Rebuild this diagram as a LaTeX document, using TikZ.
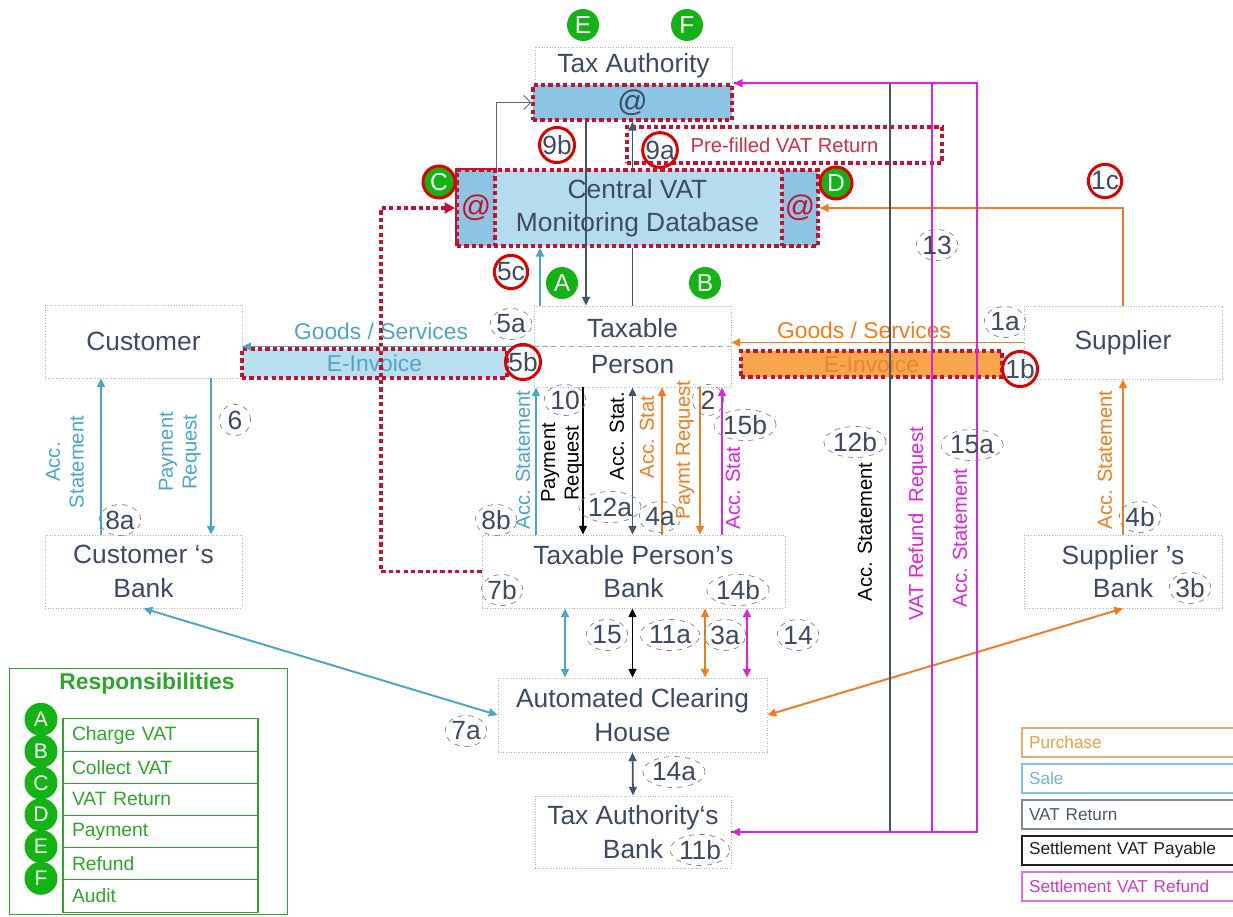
\documentclass[tikz,border=0pt]{standalone}
\usepackage{fontspec}
\setmainfont{Liberation Sans}
\usetikzlibrary{arrows.meta,shapes.geometric}
\definecolor{saleblue}{HTML}{4BA5C8}
\definecolor{purorange}{HTML}{F07C1E}
\definecolor{vatnavy}{HTML}{44546A}
\definecolor{refmag}{HTML}{E020E0}
\definecolor{dotred}{HTML}{C8102E}
\definecolor{boxtext}{HTML}{3C4A64}
\definecolor{cvfill}{HTML}{B4DCEF}
\definecolor{cellfill}{HTML}{8CC5E3}
\definecolor{einvfill}{HTML}{B8DFF0}
\definecolor{orfill}{HTML}{F8A54C}
\definecolor{ortext}{HTML}{E8862E}
\definecolor{ringred}{HTML}{E00000}
\definecolor{gcol}{HTML}{12B312}
\definecolor{respgreen}{HTML}{2EA52E}
\definecolor{prered}{HTML}{D03040}
\definecolor{legpur}{HTML}{E8B070}
\definecolor{legpurt}{HTML}{E8A040}
\definecolor{legsale}{HTML}{78C8E0}
\definecolor{legsalet}{HTML}{78B4CC}
\definecolor{legvat}{HTML}{808890}
\definecolor{legvatt}{HTML}{4A5870}
\definecolor{legpay}{HTML}{202020}
\definecolor{legref}{HTML}{E070E0}
\definecolor{legreft}{HTML}{C83CC8}

\begin{document}
\begin{tikzpicture}[x=0.02cm,y=-0.02cm,line width=.6pt,
  >={Triangle[length=5pt,width=4.5pt]},
  box/.style={draw=gray!60,densely dotted,line width=.5pt,text=boxtext,align=center,inner sep=0pt,
    font=\fontsize{15}{19}\selectfont},
  dotbox/.style={draw=dotred,line width=2pt,dash pattern=on 2.4pt off 1.8pt,inner sep=0pt,align=center},
  dotln/.style={draw=dotred,line width=2pt,dash pattern=on 2.4pt off 1.8pt},
  saleln/.style={draw=saleblue,line width=1.1pt},
  purln/.style={draw=purorange,line width=1.1pt},
  vatln/.style={draw=vatnavy,line width=1pt},
  payln/.style={draw=black,line width=1pt},
  refln/.style={draw=refmag,line width=1.1pt},
  rot/.style={rotate=90,align=center,inner sep=0pt,font=\fontsize{11.5}{13.5}\selectfont},
  numc/.style={ellipse,draw=gray,dashed,line width=.4pt,inner sep=0pt,minimum width=.62cm,minimum height=.62cm,
    text=boxtext,font=\fontsize{15}{15}\selectfont},
  redc/.style={circle,draw=ringred,line width=1.7pt,inner sep=0pt,minimum size=.66cm,
    text=boxtext,font=\fontsize{15}{15}\selectfont},
  gcirc/.style={circle,fill=gcol,text=white,inner sep=0pt,minimum size=.64cm,font=\fontsize{14}{14}\selectfont},
  resprow/.style={draw=respgreen,line width=.6pt,minimum height=.644cm,text width=3.54cm,inner xsep=.18cm,
    align=left,text=respgreen,font=\fontsize{11}{11}\selectfont},
  legbox/.style={line width=.8pt,minimum height=.58cm,text width=4cm,inner xsep=.14cm,align=left,
    font=\fontsize{9.8}{9.8}\selectfont}]
\useasboundingbox (0,0) rectangle (1233,916);

\node[box,minimum width=3.94cm,minimum height=.76cm] (ta) at (633.5,66) {Tax Authority};
\node[dotbox,fill=cellfill,minimum width=3.98cm,minimum height=.7cm,text=boxtext,font=\fontsize{17}{17}\selectfont] (taat) at (632.5,102.5) {@};
\node[dotbox,minimum width=6.3cm,minimum height=.72cm,text=prered,font=\fontsize{11.5}{11.5}\selectfont] (pre) at (784.5,145) {Pre-filled VAT Return};
\node[dotbox,fill=cvfill,minimum width=7.22cm,minimum height=1.52cm,text=boxtext,font=\fontsize{15}{19}\selectfont] (cvat) at (637.5,208) {Central VAT\\Monitoring Database};
\node[dotbox,fill=cellfill,minimum width=.76cm,minimum height=1.52cm,text=dotred,font=\fontsize{17}{17}\selectfont] (cl) at (476,208) {@};
\node[dotbox,fill=cellfill,minimum width=.72cm,minimum height=1.52cm,text=dotred,font=\fontsize{17}{17}\selectfont] (cr) at (800,208) {@};

\node[box,minimum width=3.94cm,minimum height=1.62cm,font=\fontsize{15}{20.5}\selectfont] (tp) at (632.5,346.5) {Taxable\\Person};
\draw[gray!70,densely dashed,line width=.5pt] (tp.west) -- (tp.east);
\node[box,minimum width=3.94cm,minimum height=1.46cm] (cust) at (143.5,341.5) {Customer};
\node[box,minimum width=3.96cm,minimum height=1.46cm] (sup) at (1123,342.5) {Supplier};
\node[box,minimum width=3.94cm,minimum height=1.46cm] (cb) at (143.5,571.5) {Customer ‘s\\Bank};
\node[box,minimum width=3.96cm,minimum height=1.46cm] (sb) at (1123,571.5) {Supplier ’s\\Bank};
\node[box,minimum width=6.06cm,minimum height=1.46cm] (tpb) at (633.5,571.5) {Taxable Person’s\\Bank};
\node[box,minimum width=5.38cm,minimum height=1.48cm] (ach) at (632.5,715) {Automated Clearing\\House};
\node[box,minimum width=3.92cm,minimum height=1.44cm] (tab) at (633,832) {Tax Authority‘s\\Bank};

\node[dotbox,fill=einvfill,minimum width=5.3cm,minimum height=.58cm,text=saleblue,font=\fontsize{13}{13}\selectfont] (einv) at (374.5,363.5) {E-Invoice};
\node[dotbox,fill=orfill,minimum width=5.22cm,minimum height=.52cm,text=ortext,font=\fontsize{13}{13}\selectfont] (einvp) at (871.5,364) {E-Invoice};

\coordinate (rx) at (381,0);
\coordinate (x101) at (101,0);
\coordinate (x211) at (211,0);
\coordinate (x536) at (536,0);
\coordinate (x540) at (540,0);
\coordinate (x565) at (565,0);
\coordinate (x583) at (583,0);
\coordinate (x586) at (586,0);
\coordinate (x662) at (662,0);
\coordinate (x700) at (700,0);
\coordinate (x705) at (705,0);
\coordinate (x722) at (722,0);
\coordinate (x747) at (747,0);
\coordinate (x890) at (890,0);
\coordinate (x932) at (932,0);
\coordinate (x977) at (977,0);

\draw[gray!80!black,line width=.5pt,-{Straight Barb[length=4pt,width=8pt]}] (cl.north east) |- (taat.west);
\draw[vatln,->] (taat.south -| x586) -- (tp.north -| x586);
\draw[vatln,->] (cvat.north -| tp.north) -- (taat.south -| tp.north);
\draw[vatln] (cvat.south -| tp.north) -- (tp.north);
\draw[saleln,->] (tp.north -| x540) -- (cvat.south -| x540);
\draw[dotln,-{Triangle[length=6pt,width=6pt]}] (tpb.west) -| (rx |- cl.west) -- (cl.west);
\draw[purln,->] (sup.north) |- (cr.east);

\draw[saleln,->] (tp.west) -- (tp.west -| cust.east);
\draw[purln,->] (sup.west) -- (sup.west -| tp.east);
\node[text=saleblue,font=\fontsize{13}{13}\selectfont] (gs1) at (381,331) {Goods / Services};
\node[text=purorange,font=\fontsize{13}{13}\selectfont] (gs2) at (864,330) {Goods / Services};

\draw[saleln,->] (cb.north -| x101) -- (cust.south -| x101);
\draw[saleln,->] (cust.south -| x211) -- (cb.north -| x211);
\draw[purln,->] (sb.north) -- (sup.south);

\draw[saleln,->] (tpb.north -| x536) -- (tp.south -| x536);
\draw[payln,->] (tp.south -| x583) -- (tpb.north -| x583);
\draw[vatln,<->] (tp.south) -- (tpb.north -| tp.south);
\draw[purln,->] (tpb.north -| x662) -- (tp.south -| x662);
\draw[purln,->] (tp.south -| x700) -- (tpb.north -| x700);
\draw[refln,->] (tpb.north -| x722) -- (tp.south -| x722);

\draw[saleln,<->] (tpb.south -| x565) -- (ach.north -| x565);
\draw[payln,<->] (tpb.south -| ach.north) -- (ach.north);
\draw[purln,<->] (tpb.south -| x705) -- (ach.north -| x705);
\draw[refln,<->] (tpb.south -| x747) -- (ach.north -| x747);
\draw[vatln,<->] (ach.south) -- (tab.north);
\draw[saleln,<->] (cb.south) -- (ach.west);
\draw[purln,<->] (sb.south) -- (ach.east);

\draw[vatln] (taat.north east) -| (x890 |- tab.east) -- (tab.east);
\draw[refln] (x932 |- taat.north east) -- (x932 |- tab.east);
\draw[refln,<->] (taat.north east) -| (x977 |- tab.east) -- (tab.east);

\node[rot,text=saleblue] (l8a) at (65,462) {Acc.\\Statement};
\node[rot,text=saleblue] (l6) at (180,452) {Payment\\Request};
\node[rot,text=saleblue] (l8b) at (523,460) {Acc. Statement};
\node[rot,text=black] (l10) at (562,463) {Payment\\Request};
\node[rot,text=black] (l12a) at (617,436) {Acc. Stat.};
\node[rot,text=purorange] (l4a) at (647,437) {Acc. Stat};
\node[rot,text=purorange] (l2) at (685,450) {Paymt Request};
\node[rot,text=refmag] (l15b) at (733,488) {Acc. Stat};
\node[rot,text=black] (l12b) at (865,532) {Acc. Statement};
\node[rot,text=refmag] (l13) at (918,524) {VAT Refund\ \ Request};
\node[rot,text=refmag] (l15a) at (960,538) {Acc. Statement};
\node[rot,text=purorange] (l4b) at (1105,460) {Acc. Statement};

\node[numc] (n5a) at (511,324) {5a};
\node[numc] (n6) at (235,420) {6};
\node[numc] (n8a) at (120,520) {8a};
\node[numc] (n8b) at (496,520) {8b};
\node[numc] (n10) at (565,400) {10};
\node[numc] (n2) at (708,400) {2};
\node[numc] (n15b) at (745,425) {15b};
\node[numc] (n12a) at (610,507) {12a};
\node[numc] (n4a) at (660,517) {4a};
\node[numc] (n7b) at (502,590) {7b};
\node[numc] (n14b) at (738,590) {14b};
\node[numc] (n15) at (607,635) {15};
\node[numc] (n11a) at (670,635) {11a};
\node[numc] (n3a) at (725,635) {3a};
\node[numc] (n14) at (798,635) {14};
\node[numc] (n7a) at (466,731) {7a};
\node[numc] (n14a) at (674,772) {14a};
\node[numc] (n11b) at (700,850) {11b};
\node[numc] (n12b) at (855,442) {12b};
\node[numc] (n13) at (937,245) {13};
\node[numc] (n15a) at (972,445) {15a};
\node[numc] (n1a) at (1005,322) {1a};
\node[numc] (n4b) at (1140,517) {4b};
\node[numc] (n3b) at (1190,588) {3b};

\node[redc] (r9b) at (557,145) {9b};
\node[redc] (r9a) at (660,150) {9a};
\node[redc] (r5c) at (511,272) {5c};
\node[redc] (r5b) at (523,362) {5b};
\node[redc] (r1b) at (1020,369) {1b};
\node[redc] (r1c) at (1105,181) {1c};

\node[gcirc] (gE) at (583,25) {E};
\node[gcirc] (gF) at (687,25) {F};
\node[gcirc,draw=ringred,line width=1.7pt] (gC) at (439,182) {C};
\node[gcirc,draw=ringred,line width=1.7pt] (gD) at (836,183) {D};
\node[gcirc] (gA) at (562,283) {A};
\node[gcirc] (gB) at (705,283) {B};

\node[draw=respgreen,line width=.6pt,minimum width=5.56cm,minimum height=4.92cm,anchor=north west,inner sep=0pt] (resp) at (9,668) {};
\node[text=respgreen,font=\fontsize{13}{13}\selectfont\bfseries] (resptitle) at (147,684) {Responsibilities};
\foreach \t [count=\i] in {Charge VAT,Collect VAT,VAT Return,Payment,Refund,Audit}
  \node[resprow] (row\i) at (160.5,{702.8+32.2*\i}) {\t};
\foreach \l [count=\i] in {A,B,C,D,E,F}
  \node[gcirc,minimum size=.66cm,font=\fontsize{12}{12}\selectfont] (rc\l) at (41,{687.5+31.8*\i}) {\l};

\foreach \t/\bc/\tc [count=\i] in {Purchase/legpur/legpurt,Sale/legsale/legsalet,VAT Return/legvat/legvatt,
    Settlement VAT Payable/legpay/legpay,Settlement VAT Refund/legref/legreft}
  \node[legbox,draw=\bc,text=\tc] (leg\i) at (1129,{706.5+36*\i}) {\t};
\end{tikzpicture}
\end{document}
